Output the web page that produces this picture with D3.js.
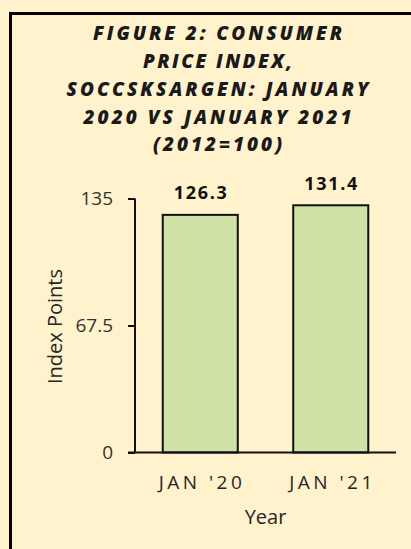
<!DOCTYPE html>
<html><head><meta charset="utf-8">
<script src="https://cdn.jsdelivr.net/npm/d3@7"></script>
<style>
html,body{margin:0;padding:0;background:#fff2cc;}
svg{display:block;}
</style></head>
<body>
<svg id="c" width="411" height="549"></svg>
<script>
const categories = ["JAN '20", "JAN '21"];
const values = [126.3, 131.4];
const yTicks = [0, 67.5, 135];
const titleLines = ["FIGURE 2: CONSUMER", "PRICE INDEX,", "SOCCSKSARGEN: JANUARY", "2020 VS JANUARY 2021", "(2012=100)"];
const yTitle = "Index Points";
const xTitle = "Year";

const svg = d3.select("#c");
const FONT = "'Open Sans', sans-serif";

svg.append("rect").attr("x", 0).attr("y", 0).attr("width", 411).attr("height", 549).attr("fill", "#fff2cc");
// frame
svg.append("rect").attr("x", 10.5).attr("y", 13.5).attr("width", 420).attr("height", 560)
  .attr("fill", "none").attr("stroke", "#000").attr("stroke-width", 3);

// title
const titleWidths = [249, 149, 302, 268, 129];
const titleBase = [39.5, 67.5, 95.5, 123.5, 151];
svg.append("g").selectAll("text").data(titleLines).join("text")
  .attr("x", 217.5).attr("y", (d, i) => titleBase[i])
  .attr("text-anchor", "middle")
  .attr("font-family", FONT).attr("font-weight", 800).attr("font-style", "italic")
  .attr("font-size", 19).attr("fill", "#1a1a1a")
  .attr("textLength", (d, i) => titleWidths[i]).attr("lengthAdjust", "spacing")
  .text(d => d);

const x = d3.scaleBand().domain(categories).range([135, 396]).paddingInner(0.425).paddingOuter(0.2125);
const y = d3.scaleLinear().domain([0, 135]).range([452.5, 198.5]);

// bars
svg.append("g").selectAll("rect").data(values).join("rect")
  .attr("x", (d, i) => x(categories[i]))
  .attr("y", d => y(d))
  .attr("width", x.bandwidth())
  .attr("height", d => y(0) - y(d))
  .attr("fill", "#d1e2a8").attr("stroke", "#111").attr("stroke-width", 2);

// y axis
const yAxis = svg.append("g").attr("transform", "translate(135,0)")
  .call(d3.axisLeft(y).tickValues(yTicks).tickSize(7).tickPadding(15).tickFormat(d => String(d)));
yAxis.select(".domain").attr("stroke", "#111").attr("stroke-width", 2).attr("d", `M0,${y(135)}V${y(0)}`);
yAxis.selectAll(".tick line").attr("stroke", "#111").attr("stroke-width", 2);
yAxis.selectAll(".tick text").attr("font-family", FONT).attr("font-size", 19).attr("fill", "#333");

// x axis
const xAxis = svg.append("g").attr("transform", `translate(0,${y(0)})`)
  .call(d3.axisBottom(x).tickSize(0).tickPadding(22));
xAxis.select(".domain").attr("stroke", "#111").attr("stroke-width", 2).attr("d", "M128,0H396");
xAxis.selectAll(".tick text").attr("font-family", FONT).attr("font-size", 19).attr("fill", "#262626")
  .attr("dy", "0").attr("y", 36.5)
  .attr("textLength", 83).attr("lengthAdjust", "spacing");

// value labels
svg.append("g").selectAll("text").data(values).join("text")
  .attr("x", (d, i) => x(categories[i]) + x.bandwidth() / 2)
  .attr("y", d => y(d) - 15.5)
  .attr("text-anchor", "middle")
  .attr("font-family", FONT).attr("font-weight", "bold").attr("font-size", 18).attr("fill", "#111")
  .attr("textLength", 53).attr("lengthAdjust", "spacing")
  .text(d => d.toFixed(1));

// axis titles
svg.append("text").attr("transform", "translate(61.5,326.5) rotate(-90)")
  .attr("text-anchor", "middle").attr("font-family", FONT).attr("font-size", 20).attr("fill", "#262626")
  .text(yTitle);
svg.append("text").attr("x", 265.5).attr("y", 524)
  .attr("text-anchor", "middle").attr("font-family", FONT).attr("font-size", 20).attr("fill", "#262626")
  .text(xTitle);
</script>
</body></html>
